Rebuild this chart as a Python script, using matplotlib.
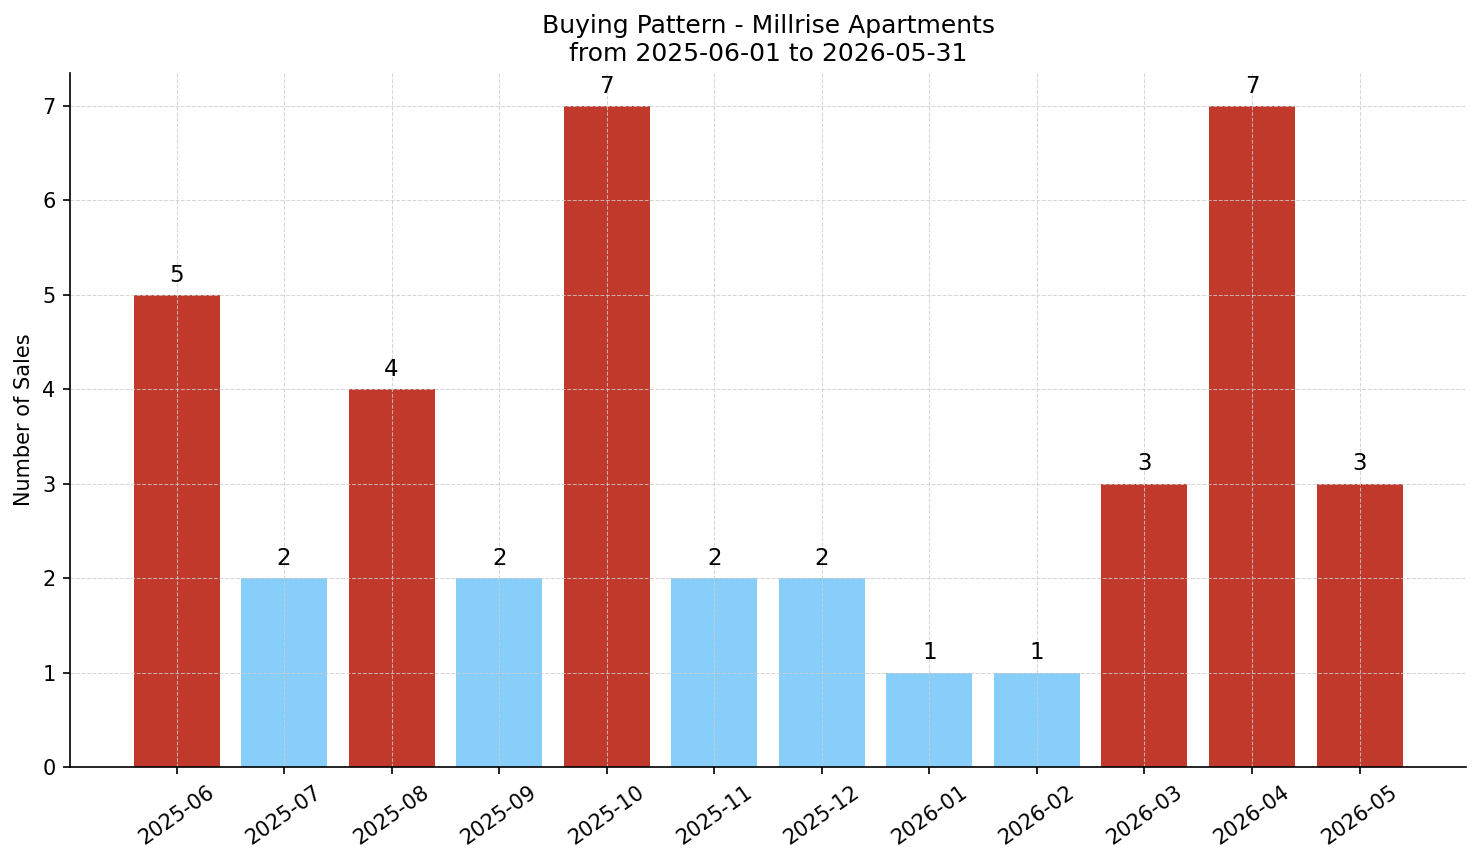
import matplotlib
matplotlib.use("Agg")
import matplotlib.pyplot as plt

months = ["2025-06", "2025-07", "2025-08", "2025-09", "2025-10", "2025-11",
          "2025-12", "2026-01", "2026-02", "2026-03", "2026-04", "2026-05"]
sales = [5, 2, 4, 2, 7, 2, 2, 1, 1, 3, 7, 3]

HIGH = "#c0392b"
LOW = "#87cefa"
colors = [HIGH if v >= 3 else LOW for v in sales]

fig = plt.figure(figsize=(1481 / 150, 863 / 150), dpi=150)
ax = fig.add_axes([0.0473, 0.1112, 0.9426, 0.8042])

bars = ax.bar(months, sales, color=colors, width=0.8)
ax.bar_label(bars, labels=[str(v) for v in sales], padding=4, fontsize=11)

ax.set_ylim(0, 7.35)
ax.set_ylabel("Number of Sales")
ax.set_title("Buying Pattern - Millrise Apartments\nfrom 2025-06-01 to 2026-05-31")
ax.grid(True, linestyle="--", linewidth=0.5, color="#cccccc", alpha=0.8)
ax.spines["top"].set_visible(False)
ax.spines["right"].set_visible(False)
plt.setp(ax.get_xticklabels(), rotation=35, ha="center")

fig.savefig("out.png", dpi=150)
